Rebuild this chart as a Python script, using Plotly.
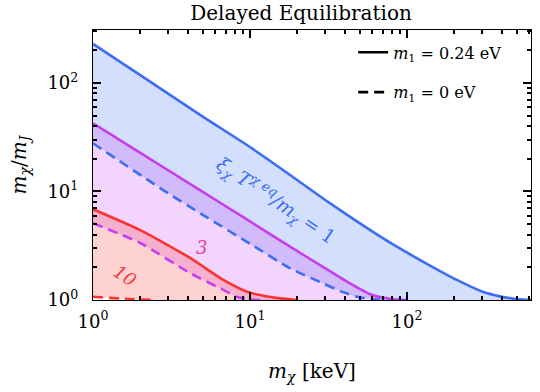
import plotly.graph_objects as go

# m_chi [keV] vs m_chi/m_J
# xi = 1 (blue)
blue_solid_x = [1, 2, 5, 10, 18, 30, 48, 80, 127, 208, 303, 390, 450, 520, 620]
blue_solid_y = [229, 118, 49, 25.7, 14.2, 8.4, 5.3, 3.3, 2.25, 1.53, 1.19, 1.08, 1.04, 1.015, 1.0]
blue_dash_x = [1, 2.8, 5, 10, 18, 29, 38, 48, 60, 70]
blue_dash_y = [27.8, 10.3, 6.1, 3.3, 1.96, 1.43, 1.2, 1.07, 1.02, 1.0]

# xi = 3 (magenta)
mag_solid_x = [1, 2, 4.8, 10, 18, 29, 43, 60, 80, 100]
mag_solid_y = [42.5, 22.7, 10.3, 5.3, 3.1, 2.03, 1.43, 1.11, 1.02, 1.0]
mag_dash_x = [1, 2, 4.15, 6.76, 8.2, 10, 12]
mag_dash_y = [5.1, 3.35, 1.77, 1.24, 1.07, 1.01, 1.0]

# xi = 10 (red)
red_solid_x = [1, 2, 4.15, 6.76, 9.6, 15, 20]
red_solid_y = [6.85, 4.4, 2.44, 1.53, 1.19, 1.04, 1.0]
red_dash_x = [1, 1.5, 2.5]
red_dash_y = [1.07, 1.03, 1.0]

tick_vals = [1, 10, 100]
tick_text = ["10<sup>0</sup>", "10<sup>1</sup>", "10<sup>2</sup>"]
minor_vals = [2, 3, 4, 5, 6, 7, 8, 9, 20, 30, 40, 50, 60, 70, 80, 90, 200, 300, 400, 500, 600]

BLUE = "#3b6ef5"
MAGENTA = "#c83cf0"
RED = "#ff3232"
FONT = "DejaVu Serif"

curves = [
    (blue_solid_x, blue_solid_y, blue_dash_x, blue_dash_y, BLUE, "rgba(59,110,245,0.22)"),
    (mag_solid_x, mag_solid_y, mag_dash_x, mag_dash_y, MAGENTA, "rgba(200,60,240,0.22)"),
    (red_solid_x, red_solid_y, red_dash_x, red_dash_y, RED, "rgba(255,50,50,0.22)"),
]

fig = go.Figure()

# bands between solid and dashed curves
for sx, sy, dx, dy, col, fill in curves:
    fig.add_trace(
        go.Scatter(
            x=sx + dx[::-1],
            y=sy + dy[::-1],
            fill="toself",
            fillcolor=fill,
            line={"width": 0, "shape": "spline", "smoothing": 0.6},
            mode="lines",
            showlegend=False,
            hoverinfo="skip",
        )
    )

for sx, sy, dx, dy, col, fill in curves:
    fig.add_trace(
        go.Scatter(x=sx, y=sy, mode="lines", showlegend=False,
                   line={"color": col, "width": 2.6, "shape": "spline", "smoothing": 0.6})
    )
    fig.add_trace(
        go.Scatter(x=dx, y=dy, mode="lines", showlegend=False,
                   line={"color": col, "width": 2.6, "dash": "10px,6px",
                         "shape": "spline", "smoothing": 0.6})
    )

# legend entries
fig.add_trace(go.Scatter(x=[None], y=[None], mode="lines", legendgroup="a",
                         line={"color": "black", "width": 2.6},
                         name="<i>m</i><sub>1</sub> = 0.24 eV"))
fig.add_trace(go.Scatter(x=[None], y=[None], mode="lines", legendgroup="b",
                         line={"color": "black", "width": 2.6, "dash": "10px,6px"},
                         name="<i>m</i><sub>1</sub> = 0 eV"))

# carriers for the extra axes (frame, minor ticks)
fig.add_trace(go.Scatter(x=[None], y=[None], xaxis="x2", yaxis="y2",
                         showlegend=False, hoverinfo="skip"))
fig.add_trace(go.Scatter(x=[None], y=[None], xaxis="x3", yaxis="y3",
                         showlegend=False, hoverinfo="skip"))

fig.add_annotation(x=1.166, y=0.92, xref="x", yref="y", showarrow=False,
                   text="<i>ξ<sub>χ</sub> T<sup>χ eq</sup>/m<sub>χ</sub></i> = 1",
                   textangle=34, font={"family": FONT, "size": 19, "color": BLUE})
fig.add_annotation(x=0.694, y=0.48, xref="x", yref="y", showarrow=False,
                   text="<i>3</i>", font={"family": FONT, "size": 18, "color": "#ee3a9a"})
fig.add_annotation(x=0.204, y=0.23, xref="x", yref="y", showarrow=False,
                   text="<i>10</i>", textangle=33,
                   font={"family": FONT, "size": 18, "color": RED})

base = dict(
    type="log",
    showline=True,
    linecolor="black",
    linewidth=1.2,
    ticks="inside",
    tickwidth=1.5,
    tickcolor="black",
    showgrid=False,
    zeroline=False,
    automargin=False,
    tickmode="array",
    layer="above traces",
    tickfont={"family": FONT, "size": 18, "color": "black"},
)
major = dict(**base, ticklen=8, tickvals=tick_vals, ticktext=tick_text)
minor = dict(**base, ticklen=4, tickvals=minor_vals, showticklabels=False)

xrange = [0, 2.79]
yrange = [0, 2.488]

fig.update_layout(
    xaxis=dict(**major, range=xrange, mirror="ticks", ticklabelstandoff=5,
               title={"text": "<i>m<sub>χ</sub></i> [keV]", "standoff": 33,
                      "font": {"family": FONT, "size": 20, "color": "black"}}),
    yaxis=dict(**major, range=yrange, mirror="ticks", ticklabelstandoff=10,
               title={"text": "<i>m<sub>χ</sub></i>/<i>m<sub>J</sub></i>", "standoff": 15,
                      "font": {"family": FONT, "size": 20, "color": "black"}}),
    xaxis2=dict(**minor, range=xrange, overlaying="x", side="bottom", anchor="y2",
                mirror="ticks"),
    yaxis2=dict(**minor, range=yrange, overlaying="y", side="left", anchor="x2",
                mirror="ticks"),
    xaxis3=dict(**minor, range=xrange, overlaying="x", side="top", anchor="y3"),
    yaxis3=dict(**minor, range=yrange, overlaying="y", side="right", anchor="x3"),
)

fig.update_layout(
    width=540,
    height=392,
    margin={"l": 93, "r": 9, "t": 30, "b": 92},
    plot_bgcolor="white",
    paper_bgcolor="white",
    font={"family": FONT, "color": "black"},
    title={"text": "Delayed Equilibration", "x": 0.475, "xref": "paper",
           "y": 1 - 13 / 392, "yanchor": "middle",
           "font": {"family": FONT, "size": 20, "color": "black"}},
    legend={"x": 0.594, "y": 0.98, "xanchor": "left", "yanchor": "top",
            "bgcolor": "rgba(0,0,0,0)", "tracegroupgap": 16,
            "font": {"family": FONT, "size": 16, "color": "black"}},
)

fig.write_html("out.html", config={"displayModeBar": False},
               post_script="document.body.style.margin = '0';")
